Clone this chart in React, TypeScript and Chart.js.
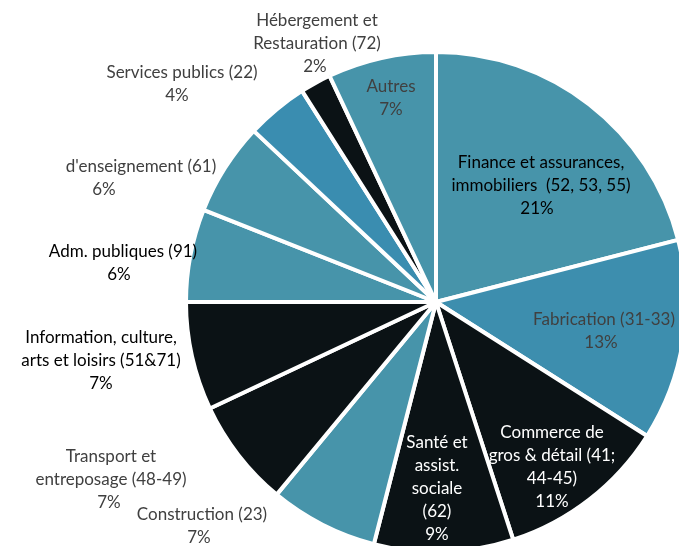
import React, { useEffect, useRef } from "react";
import { Chart, registerables } from "chart.js";

Chart.register(...registerables);

const categories: string[][] = [
  ["Finance et assurances,", "immobiliers  (52, 53, 55)"],
  ["Fabrication (31-33)"],
  ["Commerce de", "gros & détail (41;", "44-45)"],
  ["Santé et", "assist.", "sociale", "(62)"],
  ["Construction (23)"],
  ["Transport et", "entreposage (48-49)"],
  ["Information, culture,", "arts et loisirs (51&71)"],
  ["Adm. publiques (91)"],
  ["d'enseignement (61)"],
  ["Services publics (22)"],
  ["Hébergement et", "Restauration (72)"],
  ["Autres"],
];

const shares: number[] = [21, 13, 11, 9, 7, 7, 7, 6, 6, 4, 2, 7];

const sliceColors: string[] = [
  "#4794AA",
  "#3D8EAE",
  "#0B1215",
  "#0B1215",
  "#4794AA",
  "#0B1215",
  "#0B1215",
  "#4794AA",
  "#4794AA",
  "#3A8DB0",
  "#0B1215",
  "#4794AA",
];

// label anchor (centre x, first line centre y) and text colour, in page pixels
const labelX: number[] = [541, 604, 552, 437, 202, 111, 101, 123, 141, 182, 317, 391];
const labelY: number[] = [163, 320, 433, 443, 515, 457, 338, 252, 167, 73, 21, 87];
const pctX: number[] = [537, 601, 552, 437, 199, 109, 101, 119, 104, 177, 315, 391];
const labelColors: string[] = [
  "#000000",
  "#404040",
  "#FFFFFF",
  "#FFFFFF",
  "#404040",
  "#404040",
  "#000000",
  "#000000",
  "#404040",
  "#404040",
  "#404040",
  "#404040",
];

const FONT = '17px Lato, "Open Sans", sans-serif';
const LINE_H = 22.8;

const labelPlugin = {
  id: "pieLabels",
  afterDraw(chart: any) {
    const ctx = chart.ctx;
    ctx.save();
    ctx.font = FONT;
    ctx.textAlign = "center";
    ctx.textBaseline = "middle";
    categories.forEach((lines, i) => {
      ctx.fillStyle = labelColors[i];
      lines.forEach((line, j) => {
        ctx.fillText(line, labelX[i], labelY[i] + j * LINE_H);
      });
      ctx.fillText(shares[i] + "%", pctX[i], labelY[i] + lines.length * LINE_H);
    });
    ctx.restore();
  },
};

export default function App() {
  const ref = useRef<HTMLCanvasElement | null>(null);
  useEffect(() => {
    if (!ref.current) return;
    const chart = new Chart(ref.current, {
      type: "pie",
      data: {
        labels: categories.map((c) => c.join(" ")),
        datasets: [
          {
            data: shares,
            backgroundColor: sliceColors,
            borderColor: "#FFFFFF",
            borderWidth: 4,
            hoverOffset: 0,
            offset: 0,
          },
        ],
      },
      options: {
        animation: false,
        responsive: false,
        devicePixelRatio: 1,
        layout: { padding: { left: 184, right: 186, top: 50, bottom: 50 } },
        plugins: {
          legend: { display: false },
          tooltip: { enabled: false },
        },
      },
      plugins: [labelPlugin],
    });
    return () => chart.destroy();
  }, []);
  return (
    <div
      style={{
        position: "fixed",
        left: 0,
        top: 0,
        width: 679,
        height: 546,
        overflow: "hidden",
        background: "#FFFFFF",
      }}
    >
      <canvas ref={ref} width={874} height={604} style={{ width: 874, height: 604, display: "block" }} />
    </div>
  );
}
